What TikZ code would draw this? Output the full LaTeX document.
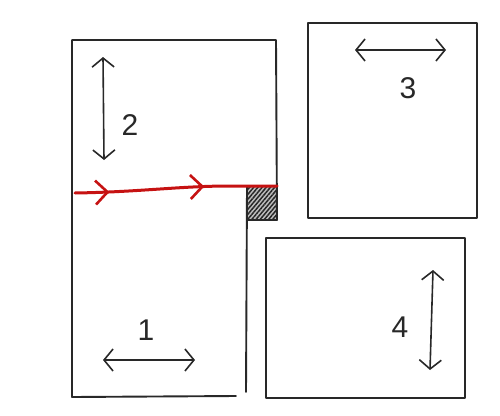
\documentclass[tikz,border=0pt]{standalone}
\usepackage{fontspec}
\setmainfont{Liberation Sans}
\usetikzlibrary{arrows.meta,patterns.meta,decorations.markings}
\definecolor{pen}{RGB}{40,40,40}
\definecolor{redpen}{RGB}{198,18,18}
\tikzstyle{bx}=[draw=pen, line width=1.9pt, line join=round, line cap=round]
\tikzstyle{dbl}=[draw=pen, line width=1.6pt, {Straight Barb[length=9pt,width=22pt]}-{Straight Barb[length=9pt,width=22pt]}]
\tikzstyle{rd}=[draw=redpen, line width=3pt, line cap=round]
\tikzstyle{lb}=[font=\fontsize{30}{32}\selectfont, text=pen, inner sep=0pt]
\tikzstyle{ht}=[pattern={Lines[angle=50, distance=3.2pt, line width=1.5pt]}, pattern color=pen]

\begin{document}
\begin{tikzpicture}[x=1pt, y=-1pt]
\useasboundingbox (0,0) rectangle (500,415);

\fill[black!25] (248,187) rectangle (277,220);
\fill[ht] (248,187) rectangle (277,220);

\draw[bx] (72,397) -- (72,40) -- (276,40) -- (277,220) -- (248,220);
\draw[bx] (247,187) -- (246,392);
\draw[bx] (72,397) -- (236,396);

\draw[bx] (308,23) rectangle (477,218);
\draw[bx] (266,238) rectangle (465,398);

\draw[rd, postaction={decorate, decoration={markings,
  mark=at position 0.17 with {\arrow[redpen, line width=2.6pt]{Straight Barb[length=12pt,width=24pt]}},
  mark=at position 0.64 with {\arrow[redpen, line width=2.6pt]{Straight Barb[length=12pt,width=24pt]}}}}]
  (75,193) .. controls (140,192) and (180,186) .. (230,186) -- (277,186);

\coordinate (a2t) at (103,57);
\coordinate (a2b) at (104,160);
\coordinate (a1l) at (103,360);
\coordinate (a1r) at (195,360);
\coordinate (a3l) at (355,50);
\coordinate (a3r) at (446,50);
\coordinate (a4t) at (433,270);
\coordinate (a4b) at (430,370);

\draw[dbl] (a2t) -- (a2b);
\draw[dbl] (a1l) -- (a1r);
\draw[dbl] (a3l) -- (a3r);
\draw[dbl] (a4t) -- (a4b);

\node[lb] (n1) at (146,330) {1};
\node[lb] (n2) at (130,125) {2};
\node[lb] (n3) at (408,88) {3};
\node[lb] (n4) at (400,327) {4};

\end{tikzpicture}
\end{document}
